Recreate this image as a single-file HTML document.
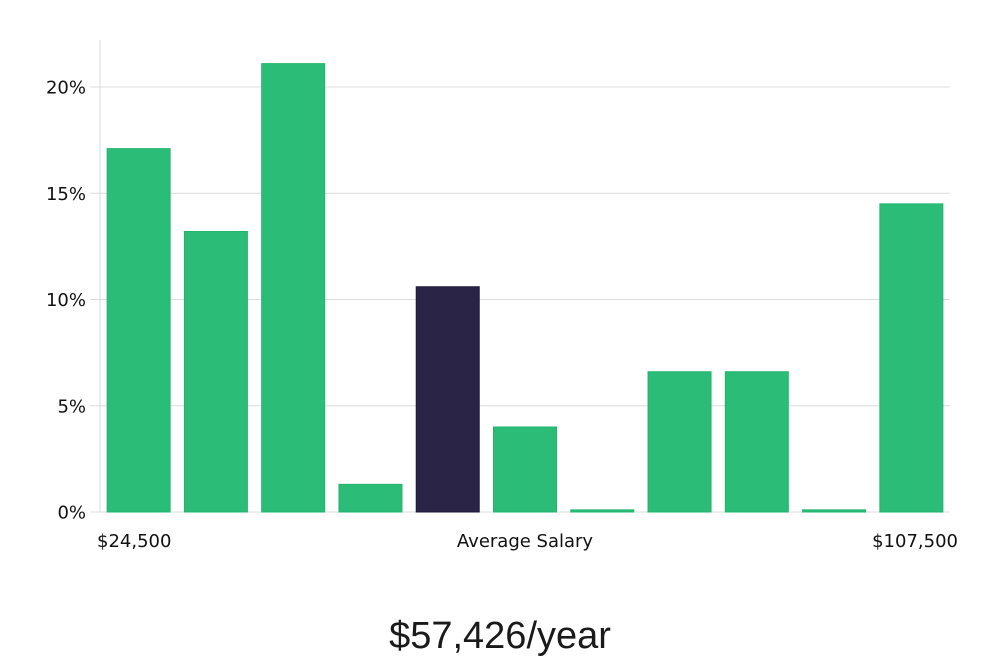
<!DOCTYPE html>
<html><head><meta charset="utf-8"><style>
html,body{margin:0;padding:0;background:#fff;width:1000px;height:660px;overflow:hidden}
svg text{font-family:"DejaVu Sans","Liberation Sans",sans-serif}
</style></head><body>
<svg id="chart" width="1000" height="660" viewBox="0 0 1000 660" xmlns="http://www.w3.org/2000/svg">
<g id="grid"></g>
<line x1="100" y1="40" x2="100" y2="512" stroke="#d9d9d9" stroke-width="1"/>
<g id="bars"></g>
<g id="yticks"></g>
<text x="97" y="547" font-size="18" fill="#111">$24,500</text>
<text x="525" y="547" font-size="18" fill="#111" text-anchor="middle">Average Salary</text>
<text x="958" y="547" font-size="18" fill="#111" text-anchor="end">$107,500</text>
<text x="500" y="648" font-size="38" fill="#1a1a1a" text-anchor="middle" font-family="Liberation Sans,sans-serif" style="font-family:'Liberation Sans',sans-serif;font-weight:300">$57,426/year</text>
</svg>
<script>
const categories = ["b1","b2","b3","b4","b5","b6","b7","b8","b9","b10","b11"];
const values = [17.1, 13.2, 21.1, 1.3, 10.6, 4.0, 0.1, 6.6, 6.6, 0.1, 14.5];
const highlightIndex = 4;
const yTicks = [0, 5, 10, 15, 20];
const yTickLabels = ["0%", "5%", "10%", "15%", "20%"];

const NS = "http://www.w3.org/2000/svg";
const x0 = 100, x1 = 950, yBase = 512, yTop20 = 87;
const y = v => yBase - v * (yBase - yTop20) / 20;
const band = (x1 - x0) / categories.length;
const x = i => x0 + i * band;
const barW = 63;

const grid = document.getElementById("grid");
const yt = document.getElementById("yticks");
yTicks.forEach((t, i) => {
  const l = document.createElementNS(NS, "line");
  
  
  l.setAttribute("x1", 90); l.setAttribute("x2", x1);
  l.setAttribute("y1", y(t)); l.setAttribute("y2", y(t));
  l.setAttribute("stroke", "#dcdcdc"); l.setAttribute("stroke-width", "1");
  grid.appendChild(l);
  const tx = document.createElementNS(NS, "text");
  
  
  tx.setAttribute("x", 86); tx.setAttribute("y", y(t) + 6.5);
  tx.setAttribute("text-anchor", "end"); tx.setAttribute("font-size", "18");
  tx.setAttribute("fill", "#111");
  tx.textContent = yTickLabels[i];
  yt.appendChild(tx);
});

const bars = document.getElementById("bars");
values.forEach((v, i) => {
  const r = document.createElementNS(NS, "rect");
  
  
  const bx = x(i) + (band - barW) / 2;
  r.setAttribute("x", bx); r.setAttribute("width", barW);
  r.setAttribute("y", y(v)); r.setAttribute("height", Math.max(1, yBase - y(v)));
  const hi = i === highlightIndex;
  r.setAttribute("fill", hi ? "#2a2546" : "#2bbd77");
  r.setAttribute("stroke", hi ? "#1c1838" : "#22b46c");
  r.setAttribute("stroke-width", "1");
  bars.appendChild(r);
});
</script>
</body></html>
